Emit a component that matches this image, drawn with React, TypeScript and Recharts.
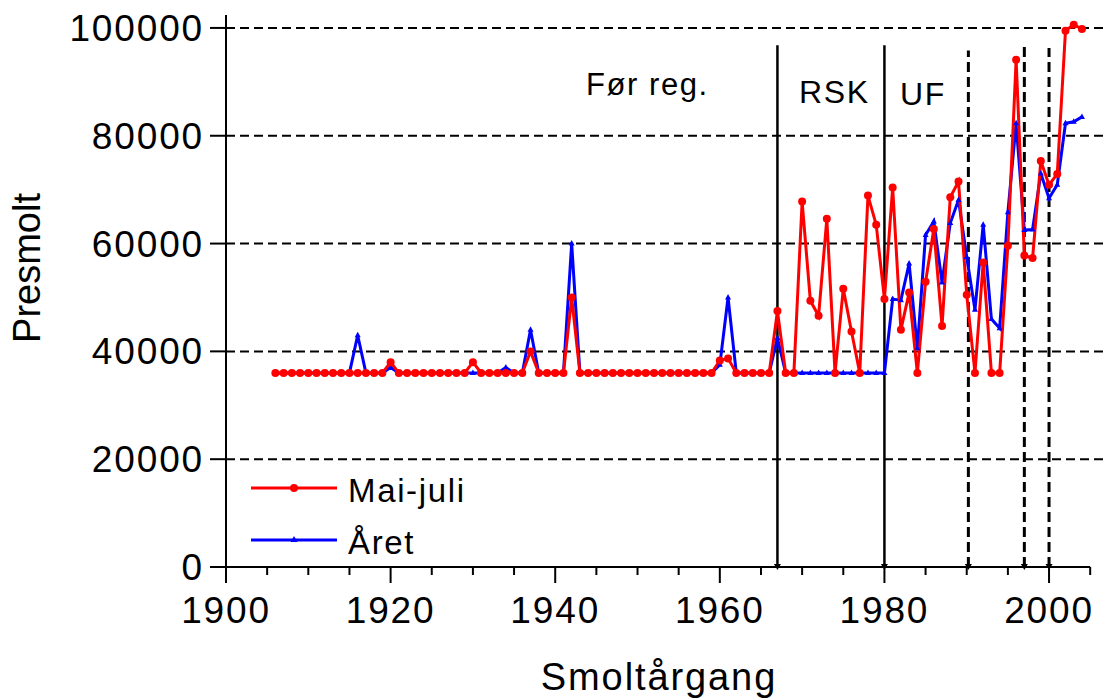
import React from 'react';
import { LineChart, Line, XAxis, YAxis, ReferenceLine, ReferenceDot, Legend, Customized } from 'recharts';

const FONT = '"Liberation Sans", Arial, sans-serif';

const years = [
  1906, 1907, 1908, 1909,
  1910, 1911, 1912, 1913, 1914, 1915, 1916, 1917, 1918, 1919,
  1920, 1921, 1922, 1923, 1924, 1925, 1926, 1927, 1928, 1929,
  1930, 1931, 1932, 1933, 1934, 1935, 1936, 1937, 1938, 1939,
  1940, 1941, 1942, 1943, 1944, 1945, 1946, 1947, 1948, 1949,
  1950, 1951, 1952, 1953, 1954, 1955, 1956, 1957, 1958, 1959,
  1960, 1961, 1962, 1963, 1964, 1965, 1966, 1967, 1968, 1969,
  1970, 1971, 1972, 1973, 1974, 1975, 1976, 1977, 1978, 1979,
  1980, 1981, 1982, 1983, 1984, 1985, 1986, 1987, 1988, 1989,
  1990, 1991, 1992, 1993, 1994, 1995, 1996, 1997, 1998, 1999,
  2000, 2001, 2002, 2003, 2004,
];

// Mai-juli
const maiJuli = [
  36000, 36000, 36000, 36000,
  36000, 36000, 36000, 36000, 36000, 36000, 36000, 36000, 36000, 36000,
  38000, 36000, 36000, 36000, 36000, 36000, 36000, 36000, 36000, 36000,
  38000, 36000, 36000, 36000, 36000, 36000, 36000, 40000, 36000, 36000,
  36000, 36000, 50000, 36000, 36000, 36000, 36000, 36000, 36000, 36000,
  36000, 36000, 36000, 36000, 36000, 36000, 36000, 36000, 36000, 36000,
  38300, 38700, 36000, 36000, 36000, 36000, 36000, 47500, 36000, 36000,
  67800, 49400, 46600, 64600, 36000, 51600, 43700, 36000, 68900, 63500,
  49700, 70400, 44000, 50900, 36000, 52900, 62700, 44700, 68600, 71500,
  50500, 36000, 56500, 36000, 36000, 59600, 94100, 57800, 57300, 75300,
  70900, 72900, 99500, 100600, 99800,
];

// Året
const aret = [
  36000, 36000, 36000, 36000,
  36000, 36000, 36000, 36000, 36000, 36000, 43000, 36000, 36000, 36000,
  37000, 36000, 36000, 36000, 36000, 36000, 36000, 36000, 36000, 36000,
  36000, 36000, 36000, 36000, 37000, 36000, 36000, 44000, 36000, 36000,
  36000, 36000, 60000, 36000, 36000, 36000, 36000, 36000, 36000, 36000,
  36000, 36000, 36000, 36000, 36000, 36000, 36000, 36000, 36000, 36000,
  37500, 50000, 36000, 36000, 36000, 36000, 36000, 42500, 36000, 36000,
  36000, 36000, 36000, 36000, 36000, 36000, 36000, 36000, 36000, 36000,
  36000, 49700, 49500, 56300, 40600, 61600, 64100, 52800, 63800, 68100,
  57500, 47700, 63500, 46000, 44300, 65800, 82300, 62500, 62600, 73000,
  68400, 70900, 82300, 82600, 83500,
];

const xTicks = [
  1900, 1905, 1910, 1915, 1920, 1925, 1930, 1935, 1940, 1945, 1950,
  1955, 1960, 1965, 1970, 1975, 1980, 1985, 1990, 1995, 2000, 2005,
];
const yTicks = [0, 20000, 40000, 60000, 80000, 100000];
const gridValues = [20000, 40000, 60000, 80000, 100000];

// period boundaries (year, top of the line)
const solidBreaks = [
  { year: 1967, top: 96800 },
  { year: 1980, top: 96800 },
];
const dashedBreaks = [
  { year: 1990.2, top: 95800 },
  { year: 1997, top: 96800 },
  { year: 2000, top: 96300 },
];

const data = years.map((year, i) => ({ year, maiJuli: maiJuli[i], aret: aret[i] }));

const XTick = ({ x, y, payload }: any) => {
  const v = payload.value;
  const major = v % 20 === 0;
  return (
    <g>
      <line x1={x} y1={y} x2={x} y2={y + (major ? 16 : 8)} stroke="#000" strokeWidth={2} />
      {major && (
        <text x={x} y={y + 56} textAnchor="middle" fontSize={37} fontFamily={FONT} letterSpacing="0.05em" fill="#000">
          {v}
        </text>
      )}
    </g>
  );
};

const YTick = ({ x, y, payload }: any) => (
  <g>
    <line x1={x - 16} y1={y} x2={x} y2={y} stroke="#000" strokeWidth={2} />
    <text x={x - 22} y={y + 13} textAnchor="end" fontSize={37} fontFamily={FONT} letterSpacing="0.05em" fill="#000">
      {payload.value}
    </text>
  </g>
);

const RedDot = (p: any) => {
  if (p.cx == null || p.cy == null) return <g key={p.key} />;
  return <circle key={p.key} cx={p.cx} cy={p.cy} r={4} fill="#ff0000" />;
};

const BlueTri = (p: any) => {
  if (p.cx == null || p.cy == null) return <g key={p.key} />;
  return (
    <path
      key={p.key}
      d={`M${p.cx},${p.cy - 3.5} L${p.cx + 3},${p.cy + 2} L${p.cx - 3},${p.cy + 2} Z`}
      fill="#0000ff"
    />
  );
};

const ArrowTip = (p: any) => (
  <path d={`M${p.cx - 3.5},${p.cy - 3} L${p.cx + 3.5},${p.cy - 3} L${p.cx},${p.cy + 3} Z`} fill="#000" />
);

const LegendBox = () => (
  <svg width={270} height={110} style={{ display: 'block', overflow: 'visible' }}>
    <line x1={11} y1={23} x2={97} y2={23} stroke="#ff0000" strokeWidth={3} />
    <circle cx={54} cy={23} r={4} fill="#ff0000" />
    <text x={108} y={37} fontSize={33} fontFamily={FONT} letterSpacing="0.05em" fill="#000">Mai-juli</text>
    <line x1={11} y1={75} x2={97} y2={75} stroke="#0000ff" strokeWidth={3} />
    <path d="M54,71 L57.5,77 L50.5,77 Z" fill="#0000ff" />
    <text x={108} y={89} fontSize={33} fontFamily={FONT} letterSpacing="0.05em" fill="#000">Året</text>
  </svg>
);

const Annotations = () => (
  <g fontFamily={FONT} fill="#000">
    <text x={586} y={95} fontSize={31} letterSpacing="0.05em">Før reg.</text>
    <text x={799} y={103} fontSize={32} letterSpacing="0.05em">RSK</text>
    <text x={900} y={105} fontSize={32} letterSpacing="0.05em">UF</text>
    <text x={659} y={690} fontSize={38} textAnchor="middle" letterSpacing="0.05em">Smoltårgang</text>
    <text x={40} y={268} fontSize={38} textAnchor="middle" transform="rotate(-90, 40, 268)">Presmolt</text>
  </g>
);

const App: React.FC = () => (
  <div style={{ position: 'absolute', left: 0, top: 0, background: '#fff' }}>
    <LineChart width={1107} height={699} data={data} margin={{ top: 15, right: 2, bottom: 0, left: 0 }}>
      <XAxis
        type="number"
        dataKey="year"
        domain={[1900, 2006.8]}
        ticks={xTicks}
        interval={0}
        allowDataOverflow
        axisLine={false}
        tickLine={false}
        tickSize={0}
        tickMargin={0}
        tick={<XTick />}
        height={132}
      />
      <YAxis
        type="number"
        domain={[0, 102400]}
        ticks={yTicks}
        interval={0}
        allowDataOverflow
        axisLine={{ stroke: '#000', strokeWidth: 2 }}
        tickLine={false}
        tickSize={0}
        tickMargin={0}
        tick={<YTick />}
        width={226}
      />
      {gridValues.map((v) => (
        <ReferenceLine key={v} y={v} stroke="#000" strokeWidth={2} strokeDasharray="9 5" />
      ))}
      <ReferenceLine segment={[{ x: 1900, y: 0 }, { x: 2005, y: 0 }]} stroke="#000" strokeWidth={2} />
      {solidBreaks.map((b) => (
        <ReferenceLine key={b.year} segment={[{ x: b.year, y: 0 }, { x: b.year, y: b.top }]} stroke="#000" strokeWidth={2.5} />
      ))}
      {dashedBreaks.map((b) => (
        <ReferenceLine
          key={b.year}
          segment={[{ x: b.year, y: 0 }, { x: b.year, y: b.top }]}
          stroke="#000"
          strokeWidth={3}
          strokeDasharray="10 5"
        />
      ))}
      {[...solidBreaks, ...dashedBreaks].map((b) => (
        <ReferenceDot key={'a' + b.year} x={b.year} y={0} r={3} shape={ArrowTip} ifOverflow="visible" />
      ))}
      <Line type="linear" dataKey="aret" name="Året" stroke="#0000ff" strokeWidth={3} dot={BlueTri} isAnimationActive={false} />
      <Line type="linear" dataKey="maiJuli" name="Mai-juli" stroke="#ff0000" strokeWidth={3} dot={RedDot} isAnimationActive={false} />
      <Legend
        layout="horizontal"
        verticalAlign="middle"
        align="center"
        content={<LegendBox />}
        wrapperStyle={{ position: 'absolute', left: 240, top: 465, width: 270, height: 110 }}
      />
      <Customized component={Annotations} />
    </LineChart>
  </div>
);

export default App;
